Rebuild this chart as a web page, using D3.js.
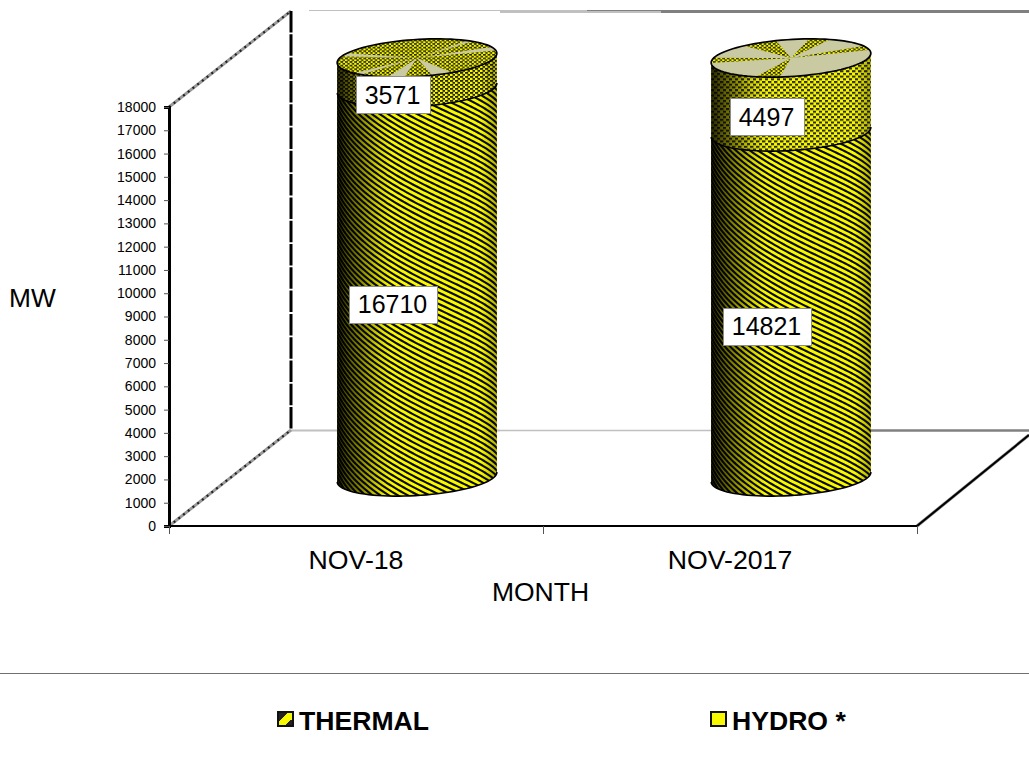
<!DOCTYPE html>
<html><head><meta charset="utf-8">
<script src="https://cdn.jsdelivr.net/npm/d3@7"></script>
<style>
html,body{margin:0;padding:0;background:#fff}
svg{display:block}
text{font-family:"Liberation Sans",Arial,sans-serif;fill:#000}
</style></head><body><svg id="c" width="1029" height="760"></svg>
<script>
const categories = ["NOV-18","NOV-2017"];
const thermal = [16710,14821];
const hydro = [3571,4497];
const axisMax = 18000;
const tickStep = 1000;
const seriesNames = ["THERMAL","HYDRO *"];

const svg = d3.select("#c");
const defs = svg.append("defs");
const x = d3.scaleBand().domain(categories).range([169,917]);
const y = d3.scaleLinear().domain([0,axisMax]).range([526,107]);
const depthX = 61, depthY = -49;          // half of the 3-D box depth
const rx = 80, ry = 18.5, tilt = -3.6*Math.PI/180;
const beige = "#c9c9a2", yel = "#f8f800";

/* ---- fleck textures ---- */
function fleck(id,w,h,col,fw,fh){
  const p = defs.append("pattern").attr("id",id).attr("patternUnits","userSpaceOnUse").attr("width",w).attr("height",h);
  p.append("rect").attr("width",w).attr("height",h).attr("fill",yel);
  [[0,0],[w/2,h/2]].forEach(o=>p.append("rect").attr("x",o[0]).attr("y",o[1]).attr("width",fw).attr("height",fh).attr("fill",col));
}
fleck("hy0",5,4,"#26260f",3.2,1.8);
fleck("hy1",6,5.4,"#2e2e16",3.4,2.1);
fleck("cap0",4.6,3.6,"#26260f",2.8,1.6);
fleck("cap1",4.6,3.6,"#26260f",2.8,1.6);

/* ---- shading across the cylinder ---- */
const g = defs.append("linearGradient").attr("id","shade");
[[0,.85],[.06,.66],[.16,.42],[.26,.14],[.34,0],[.9,0],[1,.3]].forEach(s=>
  g.append("stop").attr("offset",s[0]).attr("stop-color","#000").attr("stop-opacity",s[1]));
const sw = defs.append("linearGradient").attr("id","swatch").attr("x1",0).attr("y1",0).attr("x2",1).attr("y2",1);
[[0,"#222"],[.36,"#222"],[.36,yel],[.72,yel],[.72,"#222"],[1,"#222"]].forEach(s=>
  sw.append("stop").attr("offset",s[0]).attr("stop-color",s[1]));

/* ---- walls and floor ---- */
const line = d3.line();
function seg(a,b,col,w,dash){
  const s = svg.append("line").attr("x1",a[0]).attr("y1",a[1]).attr("x2",b[0]).attr("y2",b[1]).attr("stroke",col).attr("stroke-width",w);
  if(dash) s.attr("stroke-dasharray",dash);
  return s;
}
const dx3 = 2*depthX, dy3 = -96;
const x0 = x.range()[0], x1 = x.range()[1];
const yTop = y(axisMax), yBot = y(0);
function stepped(yy){
  seg([x0+dx3+18,yy+.5],[500,yy+.5],"#c0c0c0",1);
  seg([500,yy+1.5],[661,yy+1.5],"#c0c0c0",3);
  seg([587,yy+.5],[661,yy+.5],"#808080",1);
  seg([661,yy+1.5],[1029,yy+1.5],"#808080",3);
}
stepped(yTop+dy3-1);
seg([x0+dx3,yBot+dy3+.5],[500,yBot+dy3+.5],"#c0c0c0",2);
seg([500,yBot+dy3+.5],[870,yBot+dy3+.5],"#c0c0c0",1.5);
seg([870,yBot+dy3+.5],[1029,yBot+dy3+.5],"#808080",2.5);

[[yTop],[yBot]].forEach(d=>{
  seg([x0,d[0]],[x0+dx3,d[0]+dy3],"#9a9a9a",3);
  seg([x0,d[0]],[x0+dx3,d[0]+dy3],"#222",2.2,"2 4");
});
seg([x0+dx3,yTop+dy3],[x0+dx3,yBot+dy3],"#000",3,"21.5 1.8");
seg([x1,yBot],[1029,yBot-91],"#8a8a8a",3.2);
seg([x1,yBot],[1029,yBot-91],"#000",2);

/* ---- cylinders ---- */
function tiltPt(cx,cy,px,py){
  const u=px-cx, v=py-cy;
  return [cx+u*Math.cos(tilt)-v*Math.sin(tilt), cy+u*Math.sin(tilt)+v*Math.cos(tilt)];
}
const thetas = d3.range(-90,90.01,4).map(d=>d*Math.PI/180);
const front = (cx,cy)=>thetas.map(t=>tiltPt(cx,cy,cx+rx*Math.sin(t),cy+ry*Math.cos(t)));
const fullEll = (cx,cy)=>d3.range(0,360,4).map(a=>{const t=a*Math.PI/180;return tiltPt(cx,cy,cx+rx*Math.cos(t),cy+ry*Math.sin(t));});
const band = (cx,yLow,yHigh)=>line(front(cx,yLow).concat(front(cx,yHigh).reverse()))+"Z";

const capWedges = [
  [[-20,-8],[-50,-45],[65,80],[100,112],[135,143],[-160,-150]],
  [[-125,-100],[-76,-60],[-24,-10],[-180,-164],[99,117]]
];
const capBase = ["url(#cap0)",beige];
const capWedgeFill = [beige,"url(#cap1)"];
const hydroFill = ["url(#hy0)","url(#hy1)"];

categories.forEach((cat,i)=>{
  const bandC = x(cat)+x.bandwidth()/2;
  const cx = bandC+depthX;
  const yBase = y(0)+depthY;
  const yTh = y(Math.min(thermal[i],axisMax))+depthY;
  const yAll = y(Math.min(thermal[i]+hydro[i],axisMax))+depthY;
  const G = svg.append("g");

  // thermal body with stripes wrapped round the cylinder
  const clip = "cl"+i;
  defs.append("clipPath").attr("id",clip).append("path").attr("d",band(cx,yBase,yTh));
  const th = G.append("g").attr("clip-path",`url(#${clip})`);
  th.append("rect").attr("x",cx-rx-1).attr("y",yAll-40).attr("width",2*rx+2).attr("height",yBase-yAll+80).attr("fill",yel);
  const slope=.6, per=5.6;
  for(let yy=yAll-130;yy<yBase+120;yy+=per){
    const pts=d3.range(-90,90.01,2).map(d=>{const t=d*Math.PI/180;
      return tiltPt(cx,yy,cx+rx*Math.sin(t),yy+slope*rx*t+ry*Math.cos(t));});
    th.append("path").attr("d",line(pts)).attr("fill","none").attr("stroke","#0a0a00").attr("stroke-width",2.1);
  }
  // hydro body
  G.append("path").attr("d",band(cx,yTh,yAll)).attr("fill",hydroFill[i]);
  // shading
  G.append("path").attr("d",band(cx,yBase,yAll)).attr("fill","url(#shade)");
  // outlines
  G.append("path").attr("d",line(front(cx,yBase))).attr("fill","none").attr("stroke","#000").attr("stroke-width",1.6);
  G.append("path").attr("d",line(front(cx,yTh))).attr("fill","none").attr("stroke","#000").attr("stroke-width",1.6);
  // cap
  const capC="cp"+i;
  defs.append("clipPath").attr("id",capC).append("path").attr("d",line(fullEll(cx,yAll))+"Z");
  const cg=G.append("g").attr("clip-path",`url(#${capC})`);
  cg.append("path").attr("d",line(fullEll(cx,yAll))+"Z").attr("fill",capBase[i]);
  capWedges[i].forEach(w=>{
    const a=w[0]*Math.PI/180,b=w[1]*Math.PI/180;
    const rim=d3.range(a,b+.001,(b-a)/6).map(t=>tiltPt(cx,yAll,cx+rx*1.1*Math.cos(t),yAll+ry*1.1*Math.sin(t)));
    cg.append("path").attr("d",line([[cx,yAll]].concat(rim))+"Z").attr("fill",capWedgeFill[i]);
  });
  G.append("path").attr("d",line(fullEll(cx,yAll))+"Z").attr("fill","none").attr("stroke","#000").attr("stroke-width",1.7);

  // value labels
  const lab=(v,mid)=>{
    const ly=y(mid)-27.5, lx=bandC+36.5;
    const t=String(v), w=t.length*13.9+18, h=37;
    svg.append("rect").attr("x",Math.round(lx-w/2)+.5).attr("y",Math.round(ly-h/2)+.5).attr("width",Math.round(w)).attr("height",h).attr("fill","#fff").attr("stroke","#8c8c8c").attr("stroke-width",1);
    svg.append("text").attr("x",lx).attr("y",ly+9).attr("text-anchor","middle").attr("font-size",25).text(t);
  };
  lab(hydro[i],(thermal[i]+Math.min(thermal[i]+hydro[i],axisMax))/2);
  lab(thermal[i],thermal[i]/2);
});

/* ---- axes ---- */
const yAxis = d3.axisLeft(y).tickValues(d3.range(0,axisMax+1,tickStep)).tickSize(5).tickPadding(8).tickFormat(d3.format("d"));
const ya = svg.append("g").attr("transform",`translate(${x0},0)`).call(yAxis);
ya.select(".domain").attr("stroke","#000").attr("stroke-width",3);
ya.selectAll(".tick line").attr("stroke","#555");
ya.selectAll(".tick text").attr("font-size",14).attr("font-family",'"Liberation Sans",Arial,sans-serif').attr("fill","#000");

svg.append("line").attr("x1",x0).attr("x2",x1).attr("y1",yBot).attr("y2",yBot).attr("stroke","#000").attr("stroke-width",2.2);
[x0,...categories.map(c=>x(c)+x.bandwidth()),].forEach(v=>
  seg([v+.5,yBot],[v+.5,yBot+8],"#555",1));
categories.forEach(c=>svg.append("text").attr("x",x(c)+x.bandwidth()/2).attr("y",569).attr("text-anchor","middle").attr("font-size",26.7).text(c));

svg.append("text").attr("x",540.5).attr("y",601).attr("text-anchor","middle").attr("font-size",26.5).text("MONTH");
svg.append("text").attr("x",9).attr("y",307).attr("font-size",26.3).text("MW");

/* ---- legend ---- */
seg([0,673.5],[1029,673.5],"#707070",1);
const legX=[278,711];
seriesNames.forEach((n,i)=>{
  svg.append("rect").attr("x",legX[i]).attr("y",712).attr("width",15).attr("height",14)
    .attr("fill",i===0?"url(#swatch)":yel).attr("stroke","#111").attr("stroke-width",2);
  svg.append("text").attr("x",legX[i]+21).attr("y",730).attr("font-size",26.6).attr("font-weight","bold").text(n);
});
</script></body></html>
